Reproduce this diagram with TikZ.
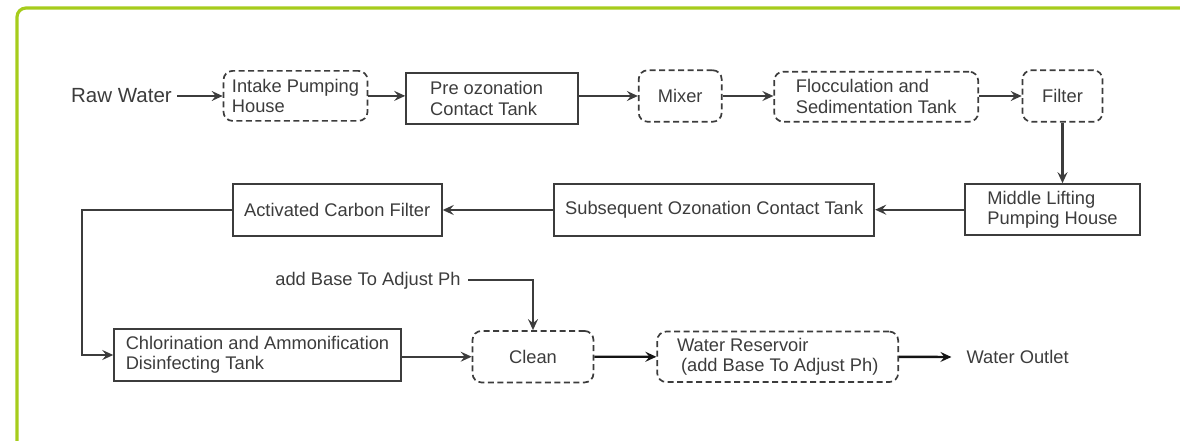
\documentclass[tikz,border=0pt]{standalone}
\usepackage{fontspec}
\setmainfont{Liberation Sans}
\usetikzlibrary{arrows.meta}
\definecolor{framegreen}{RGB}{166,204,28}
\definecolor{ink}{RGB}{60,60,60}

\begin{document}
\begin{tikzpicture}[x=1pt,y=-1pt,
  txt/.style={font=\fontsize{18.3}{20.5}\selectfont, text=ink},
  solidbox/.style={txt, draw=ink, line width=2pt, align=left, inner sep=0pt},
  dashbox/.style={solidbox, line width=1.7pt, dash pattern=on 6pt off 3.5pt, rounded corners=9pt},
  flow/.style={draw=ink, line width=2.1pt, -{Stealth[length=11pt,width=10pt,inset=4pt]}},
  boldflow/.style={flow, draw=black!92, line width=2.4pt},
]
\useasboundingbox (0,0) rectangle (1180,441);
\begin{scope}
  \clip (0,0) rectangle (1180,441);
  % outer frame, open to the right and bottom
  \draw[framegreen, line width=3.2pt, rounded corners=9pt] (17,8) rectangle (1210,470);
\end{scope}

% first row
\node[txt, font=\fontsize{20.5}{22}\selectfont, anchor=east, inner sep=0pt] (raw) at (172,96) {Raw Water};
\node[dashbox, minimum width=144pt, minimum height=50pt] (intake) at (295.5,95.9) {Intake Pumping\\House};
\node[solidbox, minimum width=172pt, minimum height=51.5pt] (pre) at (492.2,98.4) {\makebox[124pt][l]{Pre ozonation}\\Contact Tank};
\node[dashbox, minimum width=83pt, minimum height=51.5pt] (mixer) at (680.2,96) {Mixer};
\node[dashbox, minimum width=204pt, minimum height=50pt] (floc) at (876.2,96.7) {Flocculation and\\Sedimentation Tank};
\node[dashbox, minimum width=80pt, minimum height=51.5pt] (filter) at (1062.5,96) {Filter};

% second row
\node[solidbox, minimum width=174.5pt, minimum height=51pt] (mid) at (1052.5,209.7) {Middle Lifting\\Pumping House};
\node[solidbox, minimum width=320pt, minimum height=51.5pt] (sub) at (714.2,210) {Subsequent Ozonation Contact Tank};
\node[solidbox, minimum width=209pt, minimum height=51.5pt] (act) at (337.2,210) {Activated Carbon Filter};

% third row
\node[txt, anchor=east, inner sep=0pt] (base) at (460.7,280.3) {add Base To Adjust Ph};
\node[solidbox, minimum width=286.5pt, minimum height=51.5pt] (chl) at (257.5,355) {Chlorination and Ammonification\\Disinfecting Tank};
\node[dashbox, minimum width=121pt, minimum height=51.5pt] (clean) at (533,356.7) {Clean};
\node[dashbox, minimum width=241pt, minimum height=50.5pt] (res) at (777.7,356.8) {Water Reservoir\\\hspace*{4pt}(add Base To Adjust Ph)};
\node[txt, anchor=west, inner sep=0pt] (outlet) at (966.4,357) {Water Outlet};

% connectors
\draw[flow] ([xshift=5pt]raw.east) -- (raw.east -| intake.west);
\draw[flow] (intake.east) -- (intake.east -| pre.west);
\draw[flow] (pre.east |- mixer.west) -- (mixer.west);
\draw[flow] (mixer.east) -- (mixer.east -| floc.west);
\draw[flow] (floc.east |- filter.west) -- (filter.west);
\draw[flow] (filter.south) -- (filter.south |- mid.north);
\draw[flow] (mid.west) -- (mid.west -| sub.east);
\draw[flow] (sub.west) -- (act.east);
\draw[flow] (act.west) -- ++(-150,0) |- (chl.west);
\draw[flow] ([xshift=7.5pt]base.east) -| (clean.north);
\draw[flow] (clean.west -| chl.east) -- (clean.west);
\draw[boldflow] (clean.east) -- (res.west);
\draw[boldflow] (res.east) -- ([xshift=-15pt]outlet.west);
\end{tikzpicture}
\end{document}
